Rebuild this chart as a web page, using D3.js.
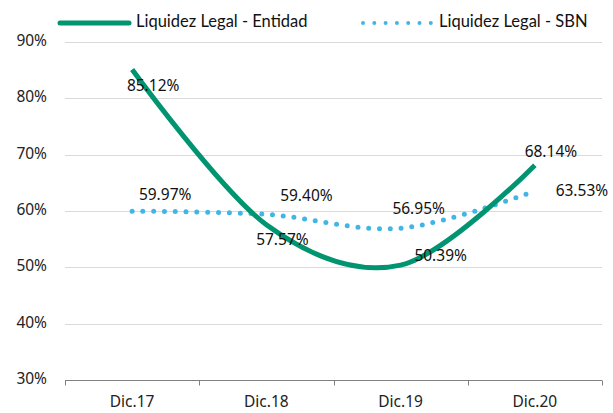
<!DOCTYPE html>
<html>
<head>
<meta charset="utf-8">
<script src="https://cdn.jsdelivr.net/npm/d3@7"></script>
<style>
  body { margin: 0; background: #fff; }
  svg { display: block; }
</style>
</head>
<body>
<svg id="chart" width="613" height="413"></svg>
<script>
// data
const categories = ['Dic.17', 'Dic.18', 'Dic.19', 'Dic.20'];
const entidad = [85.12, 57.57, 50.39, 68.14];
const sbn = [59.97, 59.40, 56.95, 63.53];
const yTicks = [30, 40, 50, 60, 70, 80, 90];

const svg = d3.select('#chart');
const margin = {left: 65, right: 11, top: 42, bottom: 33};
const width = 613, height = 413;

const x = d3.scaleBand()
    .domain(categories)
    .range([margin.left, width - margin.right]);

const y = d3.scaleLinear()
    .domain([30, 90])
    .range([height - margin.bottom, margin.top]);

const cx = d => x(d) + x.bandwidth() / 2;

// gridlines
svg.append('g')
    .selectAll('line')
    .data(yTicks.slice(1))
    .join('line')
    .attr('x1', margin.left)
    .attr('x2', width - margin.right)
    .attr('y1', d => Math.round(y(d)) + 0.5)
    .attr('y2', d => Math.round(y(d)) + 0.5)
    .style('stroke', '#d9d9d9')
    .style('stroke-width', 1);

// y labels
svg.append('g')
    .selectAll('text')
    .data(yTicks)
    .join('text')
    .attr('x', 47)
    .attr('y', d => y(d))
    .attr('text-anchor', 'end')
    .attr('dominant-baseline', 'middle')
    .style('font-family', 'Noto Sans')
    .style('font-size', '15.5px')
    .style('fill', '#222')
    .text(d => d + '%');

// x axis
const xAxis = svg.append('g')
    .attr('transform', `translate(0,${Math.round(y(30)) + 0.5})`);
xAxis.append('line')
    .attr('x1', margin.left)
    .attr('x2', width - margin.right)
    .style('stroke', '#808080');
const edges = categories.map(c => x(c)).concat([width - margin.right]);
xAxis.selectAll('.tk')
    .data(edges)
    .join('line')
    .attr('class', 'tk')
    .attr('x1', d => Math.round(d) + 0.5)
    .attr('x2', d => Math.round(d) + 0.5)
    .attr('y1', 0)
    .attr('y2', 5)
    .style('stroke', '#808080');
xAxis.selectAll('text')
    .data(categories)
    .join('text')
    .attr('x', d => cx(d))
    .attr('y', 22)
    .attr('text-anchor', 'middle')
    .attr('dominant-baseline', 'middle')
    .style('font-family', 'Noto Sans')
    .style('font-size', '15.5px')
    .style('fill', '#222')
    .text(d => d);

const line = d3.line()
    .x((d, i) => cx(categories[i]))
    .y(d => y(d))
    .curve(d3.curveCatmullRom.alpha(0));

// SBN dotted
svg.append('path')
    .datum(sbn)
    .attr('d', line)
    .style('fill', 'none')
    .style('stroke', '#41b6e6')
    .style('stroke-width', 5)
    .style('stroke-linecap', 'round')
    .style('stroke-dasharray', '0 10.8');

// Entidad solid
svg.append('path')
    .datum(entidad)
    .attr('d', line)
    .style('fill', 'none')
    .style('stroke', '#009470')
    .style('stroke-width', 5);

// data labels
const labelStyle = sel => sel
    .attr('text-anchor', 'middle')
    .attr('dominant-baseline', 'middle')
    .style('font-family', 'Noto Sans')
    .style('font-size', '15.5px')
    .style('fill', '#111');

const entOffsets = [[21, 17], [16, 16], [40, -8], [16, -12]];
const sbnOffsets = [[33, -15], [40, -18], [18, -18], [47, 1]];

svg.append('g')
    .selectAll('text')
    .data(entidad)
    .join('text')
    .call(labelStyle)
    .attr('x', (d, i) => cx(categories[i]) + entOffsets[i][0])
    .attr('y', (d, i) => y(d) + entOffsets[i][1])
    .text(d => d.toFixed(2) + '%');

svg.append('g')
    .selectAll('text')
    .data(sbn)
    .join('text')
    .call(labelStyle)
    .attr('x', (d, i) => cx(categories[i]) + sbnOffsets[i][0])
    .attr('y', (d, i) => y(d) + sbnOffsets[i][1])
    .text(d => d.toFixed(2) + '%');

// legend
const legend = svg.append('g').attr('transform', 'translate(0,23)');
legend.append('line')
    .attr('x1', 60).attr('x2', 129)
    .style('stroke', '#009470')
    .style('stroke-width', 5)
    .style('stroke-linecap', 'round');
legend.append('text')
    .attr('x', 136)
    .attr('dominant-baseline', 'middle')
    .style('font-family', 'Lato')
    .style('font-size', '16.5px')
    .style('fill', '#111')
    .text('Liquidez Legal - Entidad');
legend.append('line')
    .attr('x1', 363).attr('x2', 431)
    .style('stroke', '#41b6e6')
    .style('stroke-width', 4)
    .style('stroke-linecap', 'round')
    .style('stroke-dasharray', '0 11.3');
legend.append('text')
    .attr('x', 439)
    .attr('dominant-baseline', 'middle')
    .style('font-family', 'Lato')
    .style('font-size', '16.5px')
    .style('fill', '#111')
    .text('Liquidez Legal - SBN');
</script>
</body>
</html>
